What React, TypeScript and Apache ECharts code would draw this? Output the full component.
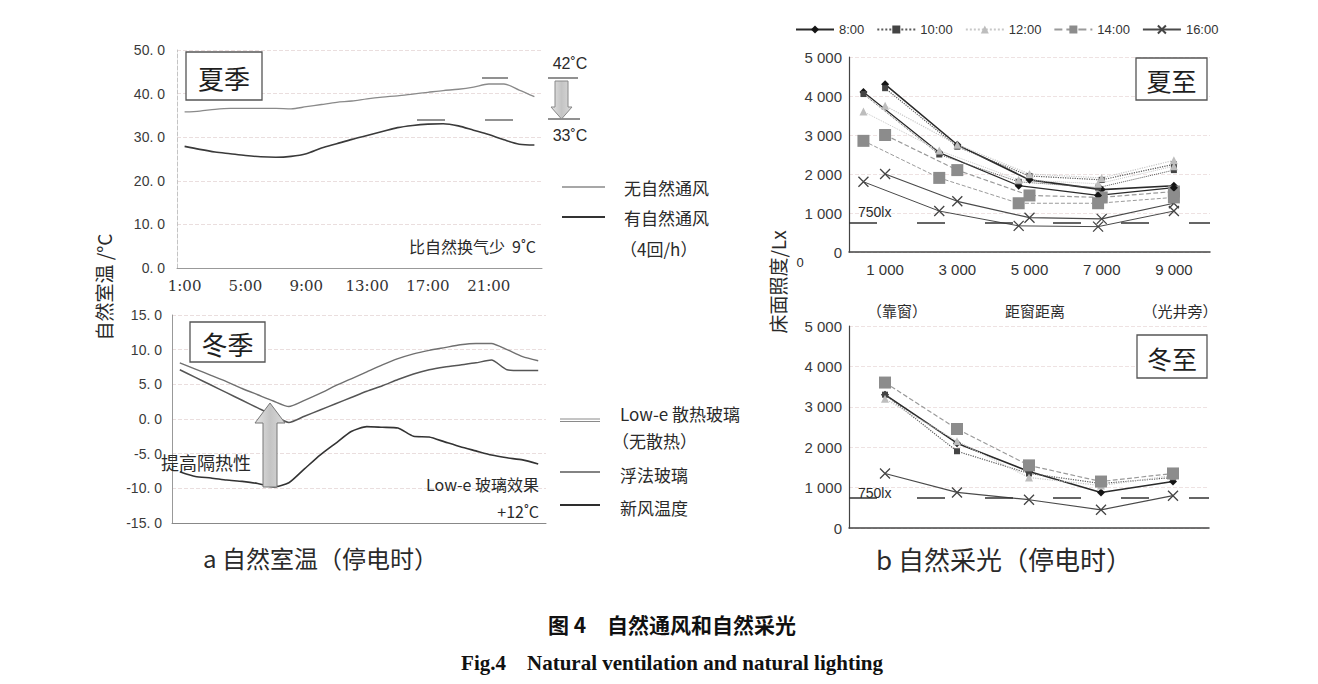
import React, { useEffect, useRef } from 'react';
import * as echarts from 'echarts';

// ---------- data ----------
const hours = ['1:00','2:00','3:00','4:00','5:00','6:00','7:00','8:00','9:00','10:00','11:00','12:00','13:00','14:00','15:00','16:00','17:00','18:00','19:00','20:00','21:00','22:00','23:00','24:00'];

const summerNoVent = [35.8, 36.0, 36.4, 36.6, 36.6, 36.6, 36.6, 36.5, 37.0, 37.5, 38.0, 38.3, 38.8, 39.2, 39.5, 39.9, 40.3, 40.7, 41.0, 41.5, 42.2, 42.2, 40.8, 39.3];
const summerVent = [27.9, 27.2, 26.6, 26.2, 25.8, 25.5, 25.4, 25.6, 26.2, 27.5, 28.5, 29.5, 30.4, 31.3, 32.2, 32.7, 33.0, 33.1, 32.6, 31.6, 30.6, 29.4, 28.4, 28.2];

const winterLowE = [8.1, 7.2, 6.3, 5.4, 4.4, 3.5, 2.6, 1.8, 2.7, 3.7, 4.8, 5.8, 6.8, 7.8, 8.7, 9.4, 9.9, 10.3, 10.7, 10.9, 10.9, 10.0, 9.0, 8.4];
const winterFloat = [7.1, 6.0, 4.9, 3.8, 2.7, 1.6, 0.5, -0.5, 0.4, 1.3, 2.2, 3.1, 4.0, 4.8, 5.7, 6.5, 7.1, 7.5, 7.8, 8.1, 8.5, 7.1, 7.0, 7.0];
const winterFresh = [-7.6, -8.3, -8.5, -8.8, -9.0, -9.3, -9.8, -9.2, -7.2, -5.2, -3.5, -1.8, -1.1, -1.2, -1.3, -2.5, -2.6, -3.3, -4.0, -4.6, -5.2, -5.6, -5.9, -6.5];

const timeNames = ['8:00', '10:00', '12:00', '14:00', '16:00'];

// distance from window (mm)
const summerDistA = [400, 2500, 4700, 6900, 9000];
const summerDistB = [1000, 3000, 5000, 7000, 9000];
const winterDist = [1000, 3000, 5000, 7000, 9000];

// summer solstice illuminance (lx), set B (solid) and set A
const summerB0800 = [4300, 2750, 1850, 1600, 1700];
const summerB1000 = [4200, 2700, 1950, 1850, 2250];
const summerB1200 = [3750, 2750, 2000, 1900, 2350];
const summerB1400 = [3000, 2100, 1450, 1400, 1550];
const summerB1600 = [2000, 1300, 880, 850, 1250];
const summerA0800 = [4100, 2550, 1700, 1450, 1650];
const summerA1000 = [4050, 2500, 1800, 1650, 2100];
const summerA1200 = [3600, 2600, 1850, 1750, 2200];
const summerA1400 = [2850, 1900, 1250, 1250, 1400];
const summerA1600 = [1800, 1050, 670, 650, 1050];

// winter solstice illuminance (lx)
const winter0800 = [3300, 2100, 1400, 880, 1150];
const winter1000 = [3300, 1900, 1350, 1100, 1250];
const winter1200 = [3200, 2150, 1250, 1050, 1300];
const winter1400 = [3600, 2450, 1550, 1150, 1350];
const winter1600 = [1350, 880, 700, 450, 800];

const threshold = 750;

// ---------- styles ----------
const CJK = "'Noto Sans CJK SC', 'Noto Sans', sans-serif";
const NUM = "'Liberation Sans Narrow', 'Liberation Sans', Arial, sans-serif";

const timeStyles = [
  { symbol: 'diamond', size: 8, fill: '#151515', line: '#2a2a2a', type: 'solid', width: 1.6 },
  { symbol: 'rect', size: 6, fill: '#444', line: '#5a5a5a', type: 'dotted', width: 1.2 },
  { symbol: 'triangle', size: 8, fill: '#bdbdbd', line: '#c8c8c8', type: 'dotted', width: 1.2 },
  { symbol: 'rect', size: 12, fill: '#8c8c8c', line: '#9a9a9a', type: 'dashed', width: 1.2 },
  { symbol: 'path://M0,0L10,10M10,0L0,10', size: 10, fill: '#444', line: '#4a4a4a', type: 'solid', width: 1.2 },
];

const fmtK = (v: number) => (v === 0 ? '0' : `${Math.floor(v / 1000)} ${String(v % 1000).padStart(3, '0')}`);
const fmtT = (v: number) => v.toFixed(1).replace('.', '. ');

function lightSeries(name: string, idx: number, xs: number[], ys: number[], axis: number, dashed: boolean, withMark: boolean) {
  const s = timeStyles[idx];
  const o: any = {
    type: 'line',
    name,
    xAxisIndex: axis,
    yAxisIndex: axis,
    data: xs.map((x, i) => [x, ys[i]]),
    symbol: s.symbol,
    symbolSize: s.size,
    showSymbol: true,
    itemStyle: { color: s.fill, borderColor: s.fill, borderWidth: idx === 4 ? 1.3 : 0 },
    lineStyle: { color: s.line, width: dashed ? Math.max(1, s.width - 0.3) : s.width, type: s.type },
    z: 3,
  };
  if (withMark) {
    o.markLine = {
      silent: true,
      symbol: 'none',
      label: { show: false },
      lineStyle: { type: [28, 40], color: '#333', width: 1.5 },
      data: [{ yAxis: threshold }],
    };
  }
  return o;
}

function txt(x: number, y: number, text: string, fontSize: number, extra: any = {}) {
  return {
    type: 'text',
    x,
    y,
    z: 100,
    rotation: extra.rotation || 0,
    style: {
      text,
      fontSize,
      fill: extra.fill || '#2a2a2a',
      fontFamily: extra.fontFamily || CJK,
      fontWeight: extra.fontWeight || 'normal',
      align: extra.align || 'left',
      verticalAlign: 'middle',
    },
  };
}

function line(x1: number, y1: number, x2: number, y2: number, stroke: string, lineWidth: number) {
  return { type: 'line', z: 100, shape: { x1, y1, x2, y2 }, style: { stroke, lineWidth } };
}

function box(x: number, y: number, w: number, h: number, label: string, fs: number) {
  return [
    { type: 'rect', z: 99, shape: { x, y, width: w, height: h }, style: { fill: '#fff', stroke: '#555', lineWidth: 1.3 } },
    txt(x + w / 2, y + h / 2 + 1, label, fs, { align: 'center', fill: '#1e1e1e' }),
  ];
}

function buildOption(): any {
  const arrowFill = new echarts.graphic.LinearGradient(0, 0, 1, 0, [
    { offset: 0, color: '#e4e4e4' },
    { offset: 0.5, color: '#c4c4c4' },
    { offset: 1, color: '#dadada' },
  ]);

  const series: any[] = [
    { type: 'line', name: '无自然通风', xAxisIndex: 0, yAxisIndex: 0, data: summerNoVent, symbol: 'none', smooth: 0.3, lineStyle: { color: '#8a8a8a', width: 1.3 } },
    { type: 'line', name: '有自然通风', xAxisIndex: 0, yAxisIndex: 0, data: summerVent, symbol: 'none', smooth: 0.3, lineStyle: { color: '#3a3a3a', width: 1.6 } },
    { type: 'line', name: 'Low-e 散热玻璃', xAxisIndex: 1, yAxisIndex: 1, data: winterLowE, symbol: 'none', smooth: 0.2, lineStyle: { color: '#707070', width: 1.4 } },
    { type: 'line', name: '浮法玻璃', xAxisIndex: 1, yAxisIndex: 1, data: winterFloat, symbol: 'none', smooth: 0.2, lineStyle: { color: '#555', width: 1.5 } },
    { type: 'line', name: '新风温度', xAxisIndex: 1, yAxisIndex: 1, data: winterFresh, symbol: 'none', smooth: 0.2, lineStyle: { color: '#333', width: 1.6 } },
  ];

  const summerB = [summerB0800, summerB1000, summerB1200, summerB1400, summerB1600];
  const summerA = [summerA0800, summerA1000, summerA1200, summerA1400, summerA1600];
  const winterS = [winter0800, winter1000, winter1200, winter1400, winter1600];
  timeNames.forEach((n, i) => series.push(lightSeries(n, i, summerDistB, summerB[i], 2, false, i === 0)));
  timeNames.forEach((n, i) => series.push(lightSeries(n, i, summerDistA, summerA[i], 2, true, false)));
  timeNames.forEach((n, i) => series.push(lightSeries(n, i, winterDist, winterS[i], 3, false, i === 0)));

  const numLabel = { fontFamily: NUM, fontSize: 14, color: '#3a3a3a' };

  const graphic: any[] = [
    ...box(186, 52, 76, 48, '夏季', 26),
    ...box(190, 322, 75, 40, '冬季', 26),
    ...box(1136, 58, 71, 42, '夏至', 25),
    ...box(1137, 335, 70, 43, '冬至', 25),

    // summer annotations
    line(482, 78, 508, 78, '#555', 1.3),
    line(417, 120, 445, 120, '#555', 1.3),
    line(485, 120, 513, 120, '#555', 1.3),
    line(548, 78, 578, 78, '#555', 1.3),
    line(548, 119, 580, 119, '#555', 1.3),
    {
      type: 'polygon', z: 100,
      shape: { points: [[555, 81], [568, 81], [568, 107], [572, 107], [561.5, 119], [551, 107], [555, 107]] },
      style: { fill: arrowFill, stroke: '#888', lineWidth: 1 },
    },
    txt(570, 63, '42˚C', 16, { align: 'center', fontFamily: "'Liberation Sans', Arial, sans-serif" }),
    txt(570, 135, '33˚C', 16, { align: 'center', fontFamily: "'Liberation Sans', Arial, sans-serif" }),
    txt(536, 246, '比自然换气少  9˚C', 16, { align: 'right' }),

    // summer legend
    line(562, 187, 605, 187, '#8a8a8a', 1.3),
    line(562, 217, 605, 217, '#333', 1.9),
    txt(624, 187, '无自然通风', 17),
    txt(624, 217, '有自然通风', 17),
    txt(620, 248, '（4回/h）', 17),

    // winter annotations
    {
      type: 'polygon', z: 100,
      shape: { points: [[263, 487], [277, 487], [277, 423], [285, 423], [270, 403], [255, 423], [263, 423]] },
      style: { fill: arrowFill, stroke: '#777', lineWidth: 1 },
    },
    txt(161, 462, '提高隔热性', 18),
    txt(539, 484, 'Low-e 玻璃效果', 16, { align: 'right' }),
    txt(539, 511, '+12˚C', 16, { align: 'right' }),

    // winter legend
    line(560, 419, 600, 419, '#8a8a8a', 1),
    line(560, 421.5, 600, 421.5, '#8a8a8a', 1),
    line(560, 472, 600, 472, '#5a5a5a', 1.6),
    line(560, 505, 600, 505, '#2e2e2e', 1.9),
    txt(620, 413, 'Low-e 散热玻璃', 17),
    txt(612, 440, '（无散热）', 17),
    txt(620, 474, '浮法玻璃', 17),
    txt(620, 507, '新风温度', 17),

    // axis titles
    txt(103, 287, '自然室温 /°C', 19, { rotation: Math.PI / 2, align: 'center' }),
    txt(777, 282, '床面照度/Lx', 19, { rotation: Math.PI / 2, align: 'center' }),

    // right chart labels
    txt(897, 310, '（靠窗）', 15, { align: 'center' }),
    txt(1035, 310, '距窗距离', 15, { align: 'center' }),
    txt(1180, 310, '（光井旁）', 15, { align: 'center' }),
    txt(800, 262, '0', 13, { align: 'center', fontFamily: NUM }),
    txt(858, 212, '750lx', 14, { fontFamily: NUM }),
    txt(858, 493, '750lx', 14, { fontFamily: NUM }),

    // captions
    txt(203, 557, 'a 自然室温（停电时）', 24),
    txt(876, 558, 'b 自然采光（停电时）', 26),
    txt(672, 624, '图 4　自然通风和自然采光', 21, { align: 'center', fontWeight: 'bold', fill: '#111' }),
    txt(672, 663, 'Fig.4    Natural ventilation and natural lighting', 21, { align: 'center', fontWeight: 'bold', fill: '#111', fontFamily: "'Liberation Serif', 'Times New Roman', serif" }),
  ];

  return {
    animation: false,
    backgroundColor: '#ffffff',
    legend: {
      data: timeNames,
      left: 790,
      top: 18,
      itemWidth: 38,
      itemHeight: 10,
      itemGap: 12,
      textStyle: { fontSize: 13, color: '#333', fontFamily: NUM },
    },
    grid: [
      { left: 177, top: 50, width: 365, height: 218 },
      { left: 172, top: 315, width: 374, height: 208 },
      { left: 849, top: 57, width: 361, height: 195 },
      { left: 849, top: 326, width: 360, height: 202 },
    ],
    xAxis: [
      {
        gridIndex: 0, type: 'category', data: hours, boundaryGap: true,
        axisTick: { show: false },
        axisLine: { onZero: false, lineStyle: { color: '#999' } },
        axisLabel: { interval: 3, fontFamily: "'DejaVu Serif', serif", fontSize: 15, color: '#333', margin: 10 },
      },
      {
        gridIndex: 1, type: 'category', data: hours, boundaryGap: true,
        axisTick: { show: false },
        axisLine: { onZero: false, lineStyle: { color: '#888' } },
        axisLabel: { show: false },
      },
      {
        gridIndex: 2, type: 'value', min: 0, max: 10000, interval: 1000,
        splitLine: { show: false }, axisTick: { show: false },
        axisLine: { onZero: false, lineStyle: { color: '#444', width: 1.5 } },
        axisLabel: { formatter: (v: number) => ((v / 1000) % 2 === 1 ? fmtK(v) : ''), fontFamily: NUM, fontSize: 15, color: '#333', margin: 10 },
      },
      {
        gridIndex: 3, type: 'value', min: 0, max: 10000, interval: 1000,
        splitLine: { show: false }, axisTick: { show: false },
        axisLine: { onZero: false, lineStyle: { color: '#444', width: 1.5 } },
        axisLabel: { show: false },
      },
    ],
    yAxis: [
      {
        gridIndex: 0, type: 'value', min: 0, max: 50, interval: 10,
        axisTick: { show: false },
        axisLine: { show: true, onZero: false, lineStyle: { color: '#c4c4c4', type: 'dashed' } },
        splitLine: { lineStyle: { color: '#eadede', type: 'dashed' } },
        axisLabel: { ...numLabel, formatter: fmtT, margin: 12 },
      },
      {
        gridIndex: 1, type: 'value', min: -15, max: 15, interval: 5,
        axisTick: { show: false },
        axisLine: { show: true, onZero: false, lineStyle: { color: '#999' } },
        splitLine: { lineStyle: { color: '#eadede', type: 'dashed' } },
        axisLabel: { ...numLabel, formatter: fmtT, margin: 10 },
      },
      {
        gridIndex: 2, type: 'value', min: 0, max: 5000, interval: 1000,
        axisTick: { show: false },
        axisLine: { show: true, onZero: false, lineStyle: { color: '#444', width: 1.2 } },
        splitLine: { lineStyle: { color: '#eee2e2', type: 'dashed' } },
        axisLabel: { ...numLabel, fontSize: 15, formatter: fmtK, margin: 7 },
      },
      {
        gridIndex: 3, type: 'value', min: 0, max: 5000, interval: 1000,
        axisTick: { show: false },
        axisLine: { show: true, onZero: false, lineStyle: { color: '#444', width: 1.2 } },
        splitLine: { lineStyle: { color: '#eee2e2', type: 'dashed' } },
        axisLabel: { ...numLabel, fontSize: 15, formatter: fmtK, margin: 7 },
      },
    ],
    series,
    graphic,
  };
}

export default function App() {
  const ref = useRef<HTMLDivElement>(null);
  useEffect(() => {
    document.body.style.margin = '0';
    if (!ref.current) return;
    const chart = echarts.init(ref.current, undefined, { renderer: 'svg' });
    chart.setOption(buildOption());
    return () => chart.dispose();
  }, []);
  return <div ref={ref} style={{ width: 1318, height: 684, background: '#fff' }} />;
}
